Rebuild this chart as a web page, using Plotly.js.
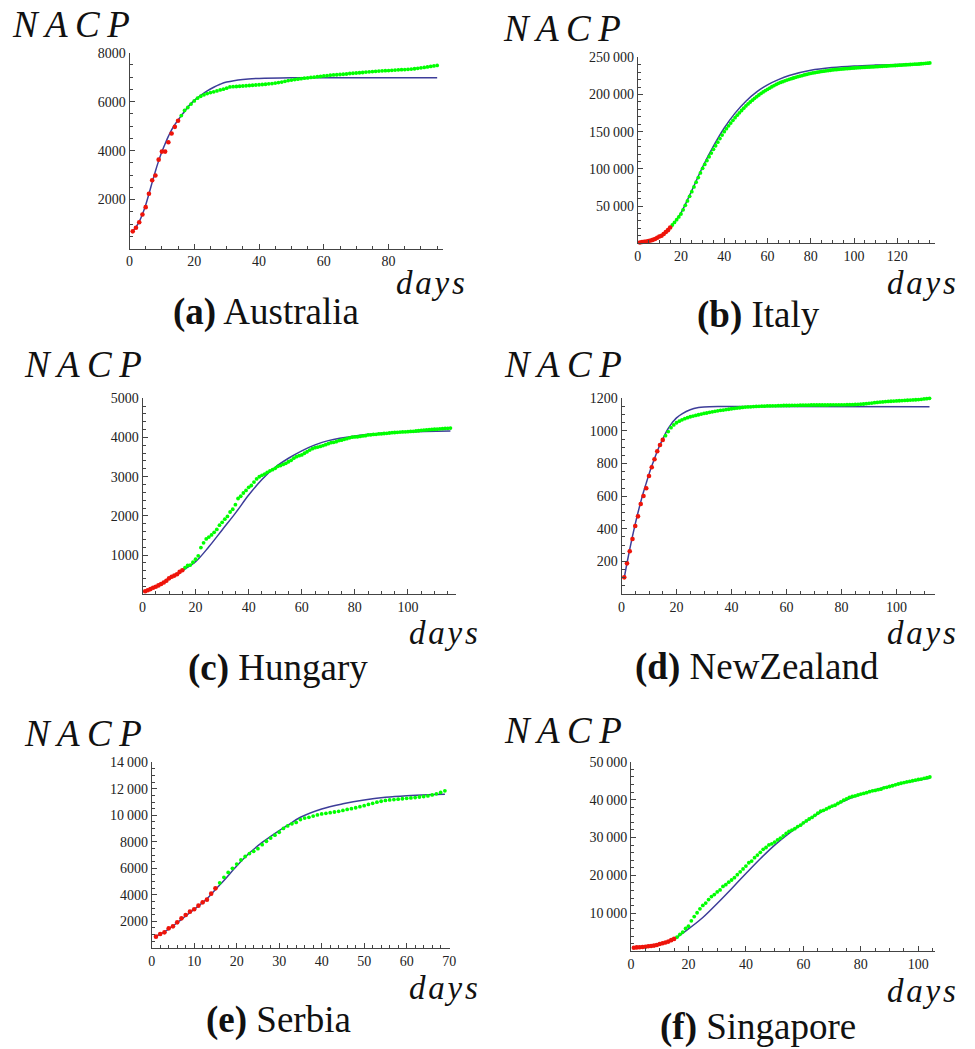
<!DOCTYPE html>
<html>
<head>
<meta charset="utf-8">
<script src="https://cdn.plot.ly/plotly-3.0.1.min.js"></script>
<style>
html,body{margin:0;padding:0;background:#fff;font-family:'Liberation Serif',serif}
#chart{width:975px;height:1049px}
#chart text, #chart tspan { font-family: 'Liberation Serif', 'DejaVu Serif', serif !important; }
</style>
</head>
<body>
<div id="chart"></div>
<script>
// ---------------- DATA ----------------
// (a) Australia
const ausRed = [700, 850, 1070, 1390, 1690, 2240, 2790, 2980, 3630, 3960, 3960, 4340, 4700, 4970, 5220];
const ausGreen = [5430, 5640, 5760, 5900, 6030, 6140, 6220, 6280, 6330, 6370, 6400, 6440, 6480, 6510, 6550,
  6600, 6610, 6620, 6630, 6640, 6650, 6660, 6670, 6680, 6690, 6700, 6710, 6730, 6740, 6760,
  6780, 6800, 6830, 6860, 6880, 6900, 6920, 6940, 6960, 6970, 6990, 7000, 7020, 7030, 7050,
  7060, 7080, 7090, 7100, 7110, 7120, 7130, 7150, 7160, 7170, 7180, 7190, 7210, 7220, 7230,
  7240, 7250, 7260, 7265, 7270, 7280, 7290, 7300, 7305, 7310, 7320, 7330, 7345, 7360, 7380,
  7400, 7420, 7440, 7460, 7480];
const ausBlueDays = [1,2,3,4,5,6,7,8,9,10,11,12,13,14,15,16,17,18,20,22,24,26,28,30,35,40,50,60,95];
const ausBlue = [720, 880, 1100, 1400, 1780, 2230, 2700, 3160, 3580, 3950, 4280, 4580, 4850, 5060, 5250,
  5430, 5600, 5780, 6050, 6260, 6440, 6590, 6710, 6800, 6910, 6950, 6975, 6980, 6980];
const ausXTicks = [0, 20, 40, 60, 80];
const ausYTicks = [2000, 4000, 6000, 8000];
const ausYText = ["2000", "4000", "6000", "8000"];

// (b) Italy
const itaRed = [1130, 1690, 2040, 2500, 3090, 3860, 4640, 5880, 7380, 9170, 10150, 12460, 15110, 17660, 21160];
const itaGreen = [24600, 28000, 31700, 35500, 39400, 45000, 51000, 57000, 63200, 69400,
  75800, 82100, 88400, 94600, 100800, 106000, 111200, 116300, 121300, 126300,
  131100, 135900, 140700, 145400, 150000, 154000, 157900, 161600, 165300, 168900,
  172200, 175400, 178500, 181600, 184600, 187300, 189900, 192400, 194800, 197100,
  199300, 201400, 203400, 205300, 207000, 208700, 210400, 212000, 213500, 215000,
  216200, 217300, 218400, 219400, 220400, 221300, 222200, 223100, 223900, 224700,
  225500, 226300, 227000, 227800, 228500, 229000, 229500, 230000, 230500, 231000,
  231400, 231800, 232200, 232600, 233000, 233300, 233600, 233900, 234200, 234400,
  234700, 234900, 235100, 235400, 235600, 235800, 236000, 236200, 236400, 236500,
  236700, 236900, 237100, 237200, 237400, 237600, 237800, 238000, 238200, 238300,
  238500, 238700, 238900, 239000, 239200, 239400, 239600, 239800, 240000, 240100,
  240300, 240500, 240700, 240800, 241000, 241300, 241600, 241900, 242100, 242400];
const itaBlueDays = [1, 5, 10, 15, 20, 25, 30, 35, 40, 45, 50, 55, 60, 65, 70, 80, 90, 100, 110, 120, 135];
const itaBlue = [1100, 3000, 8500, 21000, 41000, 71000, 102500, 130500, 155000, 175000, 191000,
  203500, 213000, 220000, 225500, 232500, 236200, 238300, 239500, 240300, 241200];
const itaXTicks = [0, 20, 40, 60, 80, 100, 120];
const itaYTicks = [50000, 100000, 150000, 200000, 250000];
const itaYText = ["50\u2009000", "100\u2009000", "150\u2009000", "200\u2009000", "250\u2009000"];

// (c) Hungary
const hunRed = [75, 100, 130, 165, 190, 225, 260, 300, 345, 405, 445, 475, 510, 570, 610];
const hunGreen = [678, 733, 744, 817, 895, 980, 1190, 1310, 1410, 1458,
  1512, 1579, 1652, 1763, 1834, 1916, 1984, 2098, 2168, 2284,
  2443, 2500, 2583, 2649, 2727, 2775, 2863, 2942, 2998, 3035,
  3065, 3111, 3150, 3178, 3213, 3263, 3284, 3313, 3341, 3380,
  3417, 3473, 3509, 3535, 3556, 3598, 3636, 3678, 3713, 3741,
  3756, 3771, 3793, 3816, 3841, 3867, 3876, 3892, 3921, 3931,
  3954, 3970, 3990, 4008, 4014, 4017, 4027, 4039, 4047, 4064,
  4069, 4077, 4081, 4090, 4094, 4102, 4107, 4114, 4123, 4127,
  4131, 4138, 4142, 4145, 4149, 4155, 4157, 4166, 4172, 4183,
  4189, 4194, 4199, 4205, 4210, 4213, 4220, 4225, 4230, 4234, 4240];
const hunBlueDays = [1, 5, 10, 15, 20, 25, 30, 35, 40, 45, 50, 55, 60, 65, 70, 80, 90, 100, 116];
const hunBlue = [70, 200, 390, 600, 830, 1210, 1640, 2070, 2530, 2930, 3240, 3470, 3660, 3810, 3920, 4040, 4105, 4140, 4165];
const hunXTicks = [0, 20, 40, 60, 80, 100];
const hunYTicks = [1000, 2000, 3000, 4000, 5000];
const hunYText = ["1000", "2000", "3000", "4000", "5000"];

// (d) New Zealand
const nzRed = [102, 188, 262, 337, 417, 476, 552, 601, 648, 724, 777, 826, 875, 914, 945];
const nzGreen = [971, 996, 1020, 1037, 1050, 1060, 1068, 1075, 1081, 1087,
  1091, 1095, 1099, 1103, 1107, 1110, 1114, 1117, 1120, 1123,
  1126, 1128, 1131, 1133, 1136, 1138, 1140, 1142, 1144, 1146,
  1147, 1148, 1149, 1150, 1151, 1152, 1152, 1153, 1153, 1154,
  1154, 1155, 1155, 1156, 1156, 1156, 1157, 1157, 1157, 1158,
  1158, 1158, 1158, 1159, 1159, 1159, 1159, 1159, 1159, 1159,
  1160, 1160, 1160, 1160, 1160, 1160, 1161, 1161, 1161, 1162,
  1163, 1164, 1165, 1167, 1169, 1171, 1173, 1175, 1177, 1178,
  1180, 1181, 1182, 1183, 1184, 1185, 1186, 1187, 1188, 1189,
  1190, 1191, 1192, 1194, 1196, 1198, 1200];
const nzBlueDays = [1,2,3,4,5,6,7,8,9,10,11,12,13,14,15,16,17,18,19,20,22,25,28,30,35,40,112];
const nzBlue = [100, 190, 275, 355, 430, 500, 565, 625, 680, 735, 785, 830, 875, 915, 950, 985, 1015, 1040,
  1062, 1080, 1105, 1130, 1143, 1147, 1150, 1150, 1148];
const nzXTicks = [0, 20, 40, 60, 80, 100];
const nzYTicks = [200, 400, 600, 800, 1000, 1200];
const nzYText = ["200", "400", "600", "800", "1000", "1200"];

// (e) Serbia
const srbRed = [840, 1040, 1167, 1469, 1620, 1922, 2224, 2476, 2727, 2904, 3180, 3432, 3633, 4086, 4488];
const srbGreen = [4900, 5320, 5690, 6000, 6320, 6630, 6890, 7110, 7280, 7480,
  7780, 8040, 8280, 8500, 8720, 9010, 9200, 9360, 9460, 9680,
  9790, 9850, 9940, 10030, 10100, 10150, 10200, 10250, 10300, 10370,
  10440, 10500, 10570, 10650, 10730, 10820, 10900, 10990, 11060, 11120,
  11160, 11190, 11220, 11250, 11280, 11310, 11340, 11380, 11420, 11460,
  11540, 11620, 11730, 11850];
const srbBlueDays = [1, 3, 5, 7, 9, 11, 13, 15, 17, 20, 23, 26, 30, 32, 35, 40, 45, 50, 55, 60, 65, 69];
const srbBlue = [870, 1200, 1650, 2150, 2650, 3150, 3700, 4400, 5080, 6170, 7150, 7950, 8850, 9250, 9850, 10480,
  10870, 11160, 11360, 11480, 11550, 11580];
const srbXTicks = [0, 10, 20, 30, 40, 50, 60, 70];
const srbYTicks = [2000, 4000, 6000, 8000, 10000, 12000, 14000];
const srbYText = ["2000", "4000", "6000", "8000", "10\u2009000", "12\u2009000", "14\u2009000"];

// (f) Singapore
const sgpRed = [930, 1000, 1050, 1110, 1190, 1310, 1380, 1480, 1620, 1910, 2110, 2300, 2530, 2920, 3250];
const sgpGreen = [3700, 4430, 5050, 5990, 6590, 8010, 9130, 10140, 11180, 12080,
  12690, 13620, 14420, 14950, 15640, 16170, 17100, 17550, 18210, 18780,
  19410, 20200, 20940, 21710, 22460, 23340, 23790, 24670, 25350, 26100,
  26890, 27360, 28040, 28340, 28790, 29360, 29810, 30430, 31070, 31620,
  31960, 32340, 32880, 33250, 33860, 34370, 34880, 35290, 35840, 36410,
  36920, 37180, 37530, 37910, 38300, 38510, 38970, 39390, 39850, 40200,
  40600, 40820, 40970, 41220, 41470, 41620, 41830, 42100, 42310, 42430,
  42620, 42740, 43120, 43250, 43460, 43660, 43910, 44120, 44310, 44480,
  44660, 44800, 44980, 45140, 45300, 45420, 45610, 45780, 45960];
const sgpBlueDays = [1, 5, 10, 15, 20, 25, 30, 35, 40, 45, 50, 55, 60, 65, 70, 75, 80, 90, 100, 104];
const sgpBlue = [900, 1200, 2000, 3300, 5900, 8900, 12600, 16500, 20500, 24400, 28000, 31100, 33800, 36200,
  38200, 39900, 41400, 43600, 45100, 45600];
const sgpXTicks = [0, 20, 40, 60, 80, 100];
const sgpYTicks = [10000, 20000, 30000, 40000, 50000];
const sgpYText = ["10\u2009000", "20\u2009000", "30\u2009000", "40\u2009000", "50\u2009000"];

const captionLetters = ["a", "b", "c", "d", "e", "f"];
const countryNames = ["Australia", "Italy", "Hungary", "NewZealand", "Serbia", "Singapore"];

// ---------------- LAYOUT CONFIG ----------------
const W = 975, H = 1049;
const px = v => v / W;
const py = v => 1 - v / H;

const panels = [
  {red: ausRed, green: ausGreen, bd: ausBlueDays, bv: ausBlue, xt: ausXTicks, yt: ausYTicks, ytt: ausYText,
   box: [129.5, 443, 52.7, 248.5], xmax: 96.8, ymax: 8000, xminor: 5, yminor: 500,
   nacp: [70.5, 24.5], days: [430, 283], cap: [266, 311.5]},
  {red: itaRed, green: itaGreen, bd: itaBlueDays, bv: itaBlue, xt: itaXTicks, yt: itaYTicks, ytt: itaYText,
   box: [637.7, 935, 57.3, 243.3], xmax: 137.4, ymax: 250000, xminor: 5, yminor: 10000,
   nacp: [562, 28.5], days: [921.5, 283], cap: [758, 314.5]},
  {red: hunRed, green: hunGreen, bd: hunBlueDays, bv: hunBlue, xt: hunXTicks, yt: hunYTicks, ytt: hunYText,
   box: [142.5, 456, 398.3, 594.2], xmax: 118.1, ymax: 5000, xminor: 5, yminor: 200,
   nacp: [82.5, 364.5], days: [443.5, 632.5], cap: [278, 667.5]},
  {red: nzRed, green: nzGreen, bd: nzBlueDays, bv: nzBlue, xt: nzXTicks, yt: nzYTicks, ytt: nzYText,
   box: [621.5, 935, 398.3, 594], xmax: 114, ymax: 1200, xminor: 5, yminor: 50,
   nacp: [562.5, 364.5], days: [921.5, 632.5], cap: [757, 666.5]},
  {red: srbRed, green: srbGreen, bd: srbBlueDays, bv: srbBlue, xt: srbXTicks, yt: srbYTicks, ytt: srbYText,
   box: [151.7, 450, 762.3, 947.8], xmax: 70.2, ymax: 14000, xminor: 2, yminor: 500,
   nacp: [82.5, 733], days: [443.5, 987.5], cap: [278, 1019.5]},
  {red: sgpRed, green: sgpGreen, bd: sgpBlueDays, bv: sgpBlue, xt: sgpXTicks, yt: sgpYTicks, ytt: sgpYText,
   box: [631, 935, 761.7, 951.2], xmax: 105.8, ymax: 50000, xminor: 5, yminor: 2000,
   nacp: [562.5, 730.5], days: [921.5, 991], cap: [758, 1026.5]}
];

const SERIF = 'Liberation Serif';
const AXC = '#444';
const TICKFONT = {family: SERIF, size: 14, color: '#222'};
const BLUE = 'rgb(61,61,153)';
const RED = 'rgb(238,20,10)';
const GREEN = 'rgb(0,255,0)';

const traces = [];
const layout = {
  width: W, height: H, autosize: false,
  margin: {l: 0, r: 0, t: 0, b: 0, pad: 0},
  paper_bgcolor: '#fff', plot_bgcolor: '#fff',
  showlegend: false,
  font: {family: SERIF, color: '#111'},
  annotations: []
};

panels.forEach((p, i) => {
  const n = i === 0 ? '' : String(i + 1);
  const xa = 'x' + n, ya = 'y' + n;
  traces.push({x: p.bd, y: p.bv, xaxis: xa, yaxis: ya, type: 'scatter', mode: 'lines',
    line: {color: BLUE, width: 1.5, shape: 'spline', smoothing: 1}, hoverinfo: 'skip'});
  traces.push({x: p.green.map((v, k) => k + 16), y: p.green, xaxis: xa, yaxis: ya, type: 'scatter', mode: 'markers',
    marker: {color: GREEN, size: 3.8}, cliponaxis: false, hoverinfo: 'skip'});
  traces.push({x: p.red.map((v, k) => k + 1), y: p.red, xaxis: xa, yaxis: ya, type: 'scatter', mode: 'markers',
    marker: {color: RED, size: 4.6}, cliponaxis: false, hoverinfo: 'skip'});

  const [x0, x1, yT, yB] = p.box;
  layout['xaxis' + n] = {
    domain: [px(x0), px(x1)], anchor: ya, range: [0, p.xmax],
    showgrid: false, zeroline: false, showline: true, linecolor: AXC, linewidth: 1,
    ticks: 'inside', ticklen: 5, tickwidth: 1, tickcolor: AXC,
    tickmode: 'array', tickvals: p.xt, ticktext: p.xt.map(String), tickfont: TICKFONT,
    minor: {dtick: p.xminor, tick0: 0, ticks: 'inside', ticklen: 3, tickcolor: AXC, tickwidth: 1, showgrid: false}
  };
  layout['yaxis' + n] = {
    domain: [py(yB), py(yT)], anchor: xa, range: [0, p.ymax],
    showgrid: false, zeroline: false, showline: true, linecolor: AXC, linewidth: 1,
    ticks: 'inside', ticklen: 5, tickwidth: 1, tickcolor: AXC,
    tickmode: 'array', tickvals: p.yt, ticktext: p.ytt, tickfont: TICKFONT,
    minor: {dtick: p.yminor, tick0: 0, ticks: 'inside', ticklen: 3, tickcolor: AXC, tickwidth: 1, showgrid: false}
  };

  layout.annotations.push({
    xref: 'paper', yref: 'paper', x: px(p.nacp[0]), y: py(p.nacp[1]), xanchor: 'center', yanchor: 'middle',
    text: '<i>N\u2009A\u2009C\u2009P</i>', showarrow: false,
    font: {family: SERIF, size: 37, color: '#111', style: 'italic'}
  });
  layout.annotations.push({
    xref: 'paper', yref: 'paper', x: px(p.days[0]), y: py(p.days[1]), xanchor: 'center', yanchor: 'middle',
    text: '<i>d\u200Aa\u200Ay\u200As</i>', showarrow: false,
    font: {family: SERIF, size: 33, color: '#111', style: 'italic'}
  });
  layout.annotations.push({
    xref: 'paper', yref: 'paper', x: px(p.cap[0]), y: py(p.cap[1]), xanchor: 'center', yanchor: 'middle',
    text: '<b>(' + captionLetters[i] + ')</b> ' + countryNames[i], showarrow: false,
    font: {family: SERIF, size: 37, color: '#111'}
  });
});

Plotly.newPlot('chart', traces, layout, {displayModeBar: false});
</script>
</body>
</html>
